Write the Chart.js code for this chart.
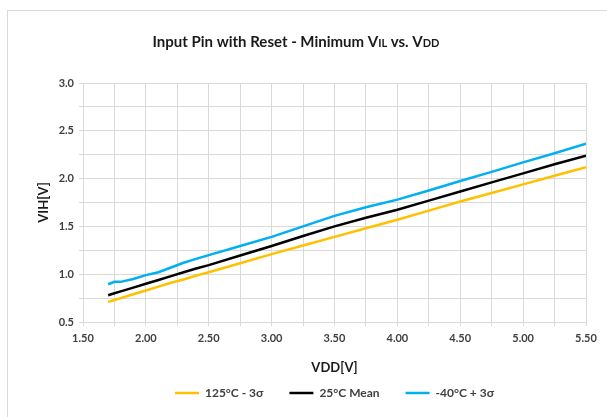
<!DOCTYPE html>
<html>
<head>
<meta charset="utf-8">
<script src="https://cdn.jsdelivr.net/npm/chart.js@4.4.0/dist/chart.umd.min.js"></script>
<style>
body{margin:0;background:#fff;}
.frame{position:absolute;left:7px;top:10px;width:600px;height:407px;border-top:1px solid #d9d9d9;border-left:1px solid #d9d9d9;}
#chart{position:absolute;left:0;top:0;}
</style>
</head>
<body>
<div class="frame"></div>
<canvas id="chart" width="607" height="417"></canvas>
<script>

// VDD sweep points (V)
let vdd = [1.7, 1.75, 1.8, 1.9, 2.0, 2.1, 2.2, 2.3, 2.4, 2.5, 2.75, 3.0, 3.25, 3.5, 3.75, 4.0, 4.25, 4.5, 4.75, 5.0, 5.25, 5.5];

// VIH readings for each corner
let hot3s  = [0.71, 0.73, 0.75, 0.79, 0.83, 0.87, 0.91, 0.945, 0.985, 1.02, 1.115, 1.21, 1.30, 1.39, 1.48, 1.57, 1.665, 1.76, 1.85, 1.94, 2.03, 2.12];
let mean25 = [0.78, 0.80, 0.82, 0.86, 0.90, 0.94, 0.98, 1.02, 1.06, 1.095, 1.195, 1.295, 1.40, 1.50, 1.59, 1.675, 1.77, 1.865, 1.96, 2.055, 2.15, 2.24];
let cold3s = [0.895, 0.92, 0.92, 0.95, 0.99, 1.02, 1.07, 1.12, 1.16, 1.20, 1.295, 1.39, 1.50, 1.61, 1.70, 1.78, 1.875, 1.975, 2.07, 2.17, 2.265, 2.365];

let seriesNames = ["125\u00B0C - 3\u03C3", "25\u00B0C Mean", "-40\u00B0C + 3\u03C3"];
let seriesColors = ["#FFC000", "#000000", "#00B0F0"];

// title, with the small-cap subscripts of VIL / VDD
let titleParts = [["Input Pin with Reset - Minimum V", 15], ["IL", 11], [" vs. V", 15], ["DD", 11]];

let FONT = "Lato";
let TXT = "#404040";
let GRID = "#d9d9d9";

function pts(ys){
    return vdd.map(function(v, i){ return {x: v, y: ys[i]}; });
}

let richTitle = {
    id: "richTitle",
    afterDraw: function(c){
        let ctx = c.ctx;
        ctx.save();
        ctx.fillStyle = "#1a1a1a";
        ctx.textBaseline = "alphabetic";
        ctx.textAlign = "left";
        let total = 0;
        titleParts.forEach(function(p){
            ctx.font = "bold " + p[1] + "px " + FONT;
            total += ctx.measureText(p[0]).width;
        });
        let x = 296 - total / 2;
        titleParts.forEach(function(p){
            ctx.font = "bold " + p[1] + "px " + FONT;
            ctx.fillText(p[0], x, 47);
            x += ctx.measureText(p[0]).width;
        });
        ctx.restore();
    }
};

let Data = {
    datasets: [hot3s, mean25, cold3s].map(function(ys, i){
        return {
            label: seriesNames[i],
            data: pts(ys),
            borderColor: seriesColors[i],
            backgroundColor: seriesColors[i],
            borderWidth: 2.5,
            pointRadius: 0,
            tension: 0
        };
    })
};

let Options = {
    responsive: false,
    maintainAspectRatio: false,
    animation: { duration: 0 },
    layout: { padding: { left: 0, right: 21, top: 83, bottom: 8 } },
    plugins: {
        title: { display: false },
        legend: {
            display: true,
            position: "bottom",
            fullSize: false,
            labels: {
                usePointStyle: true,
                pointStyle: "line",
                pointStyleWidth: 24,
                padding: 26,
                color: TXT,
                font: { family: FONT, size: 12, weight: "bold" }
            }
        },
        tooltip: { enabled: false }
    },
    scales: {
        x: {
            type: "linear",
            min: 1.5,
            max: 5.5,
            afterFit: function(s){ s.height = 39; },
            grid: { color: GRID, tickLength: 4 },
            border: { color: GRID },
            ticks: {
                stepSize: 0.25,
                padding: 6,
                maxRotation: 0,
                color: TXT,
                font: { family: FONT, size: 11, weight: "bold" },
                callback: function(v){
                    return Math.abs(v * 2 - Math.round(v * 2)) < 1e-6 ? v.toFixed(2) : "";
                }
            },
            title: {
                display: true,
                text: "VDD[V]",
                color: "#1a1a1a",
                font: { family: FONT, size: 13, weight: "bold" },
                padding: { top: 0, bottom: -15 }
            }
        },
        y: {
            min: 0.5,
            max: 3.0,
            afterFit: function(s){ s.width = 83; },
            grid: { color: GRID, tickLength: 4 },
            border: { color: GRID },
            ticks: {
                stepSize: 0.25,
                padding: 5,
                color: TXT,
                font: { family: FONT, size: 11, weight: "bold" },
                callback: function(v){
                    return Math.abs(v * 2 - Math.round(v * 2)) < 1e-6 ? v.toFixed(1) : "";
                }
            },
            title: {
                display: true,
                text: "VIH[V]",
                color: "#1a1a1a",
                font: { family: FONT, size: 13, weight: "bold" },
                padding: { top: 36, bottom: 0 }
            }
        }
    }
};

let chart = new Chart(document.getElementById("chart"), {
    type: "line",
    data: Data,
    options: Options,
    plugins: [richTitle]
});
</script>
</body>
</html>
